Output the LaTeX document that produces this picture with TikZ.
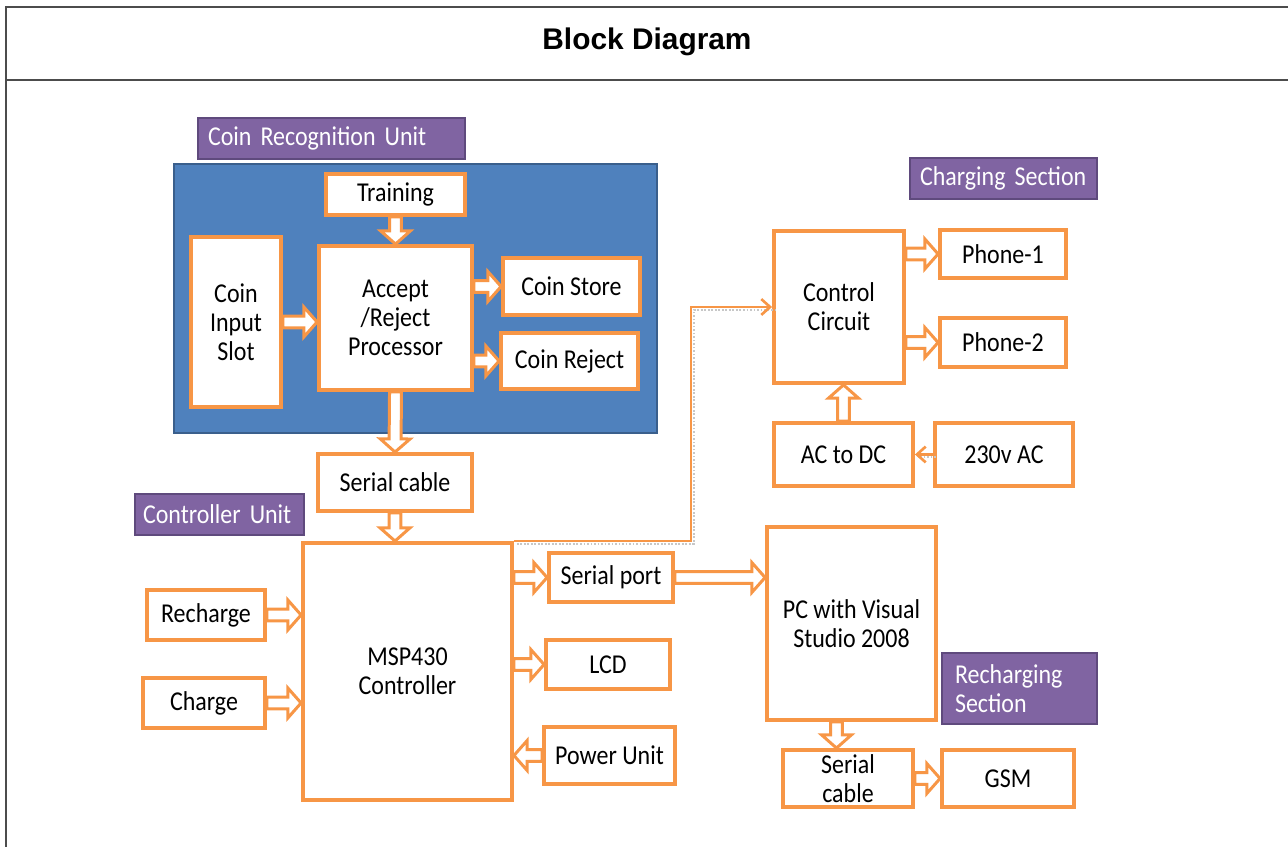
\documentclass[tikz,border=0pt]{standalone}
\usepackage{fontspec}
\setmainfont{Carlito}[FakeStretch=0.88]
\newfontfamily\headfont{Liberation Sans}
\usetikzlibrary{calc,arrows.meta}

\definecolor{boxorange}{HTML}{F79646}
\definecolor{unitblue}{HTML}{4F81BD}
\definecolor{unitborder}{HTML}{3A5F8C}
\definecolor{tagpurple}{HTML}{8064A2}
\definecolor{tagborder}{HTML}{5F4A7D}

\newcommand{\boxfont}{\fontsize{15.5}{16.5}\selectfont\hyphenpenalty=10000}
\newcommand{\shaft}{3.4pt}
\newcommand{\headw}{8.5pt}
\newcommand{\headlen}{7.5pt}

% hollow block arrow from #1 to #2
\newcommand{\blockarrow}[2]{%
  \draw[block-arrow] let \p1=#1, \p2=#2,
    \n1={atan2(\y2-\y1,\x2-\x1)}, \n2={veclen(\x2-\x1,\y2-\y1)} in
    [shift={(\p1)}, rotate=\n1]
    (0pt,-\shaft) -- ({\n2*1pt-\headlen},-\shaft) -- ({\n2*1pt-\headlen},-\headw)
    -- ({\n2*1pt},0pt) -- ({\n2*1pt-\headlen},\headw) -- ({\n2*1pt-\headlen},\shaft)
    -- (0pt,\shaft) -- cycle;}

\tikzset{
    orange-box/.style = {draw=boxorange, fill=white, line width=2.2pt, rectangle, align=center, inner sep=2pt, font=\boxfont},
    px-size/.style 2 args = {minimum width=#1*0.02cm, minimum height=#2*0.02cm},
    section-tag/.style = {draw=tagborder, fill=tagpurple, line width=1.6pt, text=white, align=left, font=\boxfont, inner ysep=0pt},
    block-arrow/.style = {draw=boxorange, fill=white, line width=1.7pt, line join=miter},
    thin-link/.style = {draw=boxorange, line width=1.5pt, -{Straight Barb[length=5pt,width=9pt]},
        preaction={-, draw=black!22, densely dotted, line width=1pt, transform canvas={xshift=1.6pt,yshift=-1.6pt}}},
    frame-line/.style = {draw=black!70, line width=1.1pt},
}

\begin{document}
\begin{tikzpicture}[x=0.02cm, y=-0.02cm]
\useasboundingbox (0,0) rectangle (1288,847);

% page frame and title
\draw[frame-line] (6,847) -- (6,7) -- (1288,7);
\draw[frame-line] (6,80) -- (1288,80);
\node[font=\headfont\bfseries\fontsize{17}{20}\selectfont] (title) at (647,42) {Block Diagram};

% coin recognition unit
\node[draw=unitborder, fill=unitblue, line width=1.6pt, px-size={483}{269}] (crunit) at (415.5,298.5) {};
\node[section-tag, px-size={267}{41}, text width=4.94cm, inner xsep=0.2cm] (crtag) at (331.5,138.5) {Coin Recognition Unit};
\node[orange-box, px-size={139}{41}] (train) at (395.5,194.5) {Training};
\node[orange-box, px-size={90}{170}] (cis) at (236,322) {Coin\\Input\\Slot};
\node[orange-box, px-size={153}{144}] (proc) at (395.5,318) {Accept\\/Reject\\Processor};
\node[orange-box, px-size={137}{57}] (store) at (571.5,286.5) {Coin Store};
\node[orange-box, px-size={137}{56}] (reject) at (569.5,361) {Coin Reject};

% controller unit
\node[orange-box, px-size={154}{57}] (cable) at (395,482.5) {Serial cable};
\node[section-tag, px-size={169}{41}, text width=3.06cm, inner xsep=0.16cm] (cutag) at (219.5,514.5) {Controller Unit};
\node[orange-box, px-size={209}{257}] (msp) at (407.5,671.5) {MSP430\\Controller};
\node[orange-box, px-size={118}{50}] (recharge) at (206,615) {Recharge};
\node[orange-box, px-size={122}{50}] (charge) at (204,703) {Charge};
\node[orange-box, px-size={124}{49}] (port) at (611,577.5) {Serial port};
\node[orange-box, px-size={124}{49}] (lcd) at (608,664.5) {LCD};
\node[orange-box, px-size={131}{57}] (power) at (609.5,755.5) {Power Unit};

% charging section
\node[section-tag, px-size={187}{41}, text width=3.34cm, inner xsep=0.2cm] (cstag) at (1003.5,178.5) {Charging Section};
\node[orange-box, px-size={130}{152}] (cc) at (839,307) {Control\\Circuit};
\node[orange-box, px-size={126}{48}] (phone1) at (1003,254) {Phone-1};
\node[orange-box, px-size={126}{49}] (phone2) at (1003,342.5) {Phone-2};
\node[orange-box, px-size={139}{63}] (acdc) at (843.5,454.5) {AC to DC};
\node[orange-box, px-size={138}{63}] (ac230) at (1004,454.5) {230v AC};

% recharging section
\node[orange-box, px-size={169}{193}] (pc) at (851.5,623.5) {PC with Visual\\Studio 2008};
\node[section-tag, px-size={155}{71}, text width=2.58cm, inner xsep=0.26cm] (rstag) at (1019.5,688.5) {Recharging\\Section};
\node[orange-box, px-size={130}{57}] (cable2) at (848,778.5) {Serial\\cable};
\node[orange-box, px-size={132}{57}] (gsm) at (1008,778.5) {GSM};

% block arrows
\blockarrow{(train.south)}{(proc.north)}
\blockarrow{(cis.east)}{(cis.east -| proc.west)}
\blockarrow{(proc.east |- store.west)}{(store.west)}
\blockarrow{(proc.east |- reject.west)}{(reject.west)}
\blockarrow{(proc.south)}{(cable.north)}
\blockarrow{(cable.south)}{(cable.south |- msp.north)}
\blockarrow{(recharge.east)}{(recharge.east -| msp.west)}
\blockarrow{(charge.east)}{(charge.east -| msp.west)}
\blockarrow{(msp.east |- port.west)}{(port.west)}
\blockarrow{(msp.east |- lcd.west)}{(lcd.west)}
\blockarrow{(power.west)}{(power.west -| msp.east)}
\blockarrow{(port.east)}{(port.east -| pc.west)}
\blockarrow{(cc.east |- phone1.west)}{(phone1.west)}
\blockarrow{(cc.east |- phone2.west)}{(phone2.west)}
\blockarrow{(acdc.north)}{(acdc.north |- cc.south)}
\coordinate (pcout) at ([xshift=-0.3cm]pc.south);
\blockarrow{(pcout)}{(pcout |- cable2.north)}
\blockarrow{(cable2.east)}{(gsm.west)}

% thin links
\coordinate (elbow) at (691,307);
\draw[thin-link] (msp.north east) -| (elbow) -- (cc.west);
\draw[thin-link] (ac230.west) -- (acdc.east);
\end{tikzpicture}
\end{document}
